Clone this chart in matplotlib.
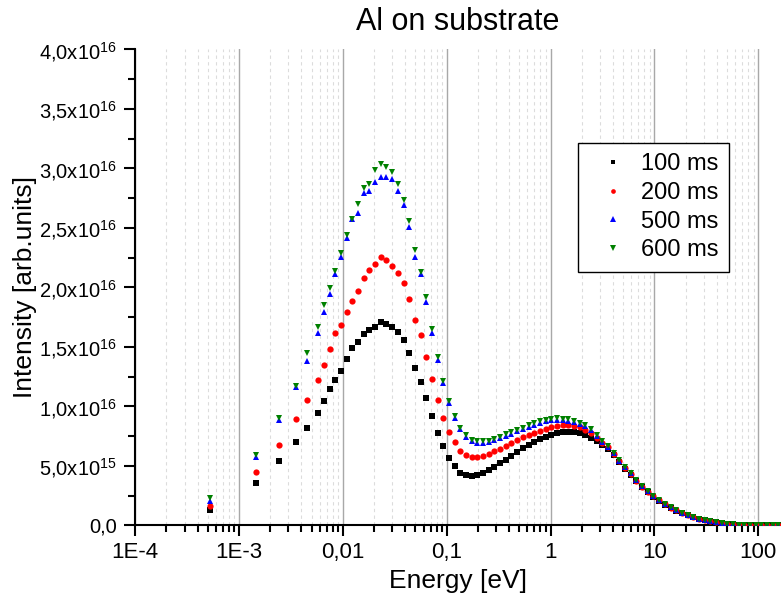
import numpy as np
import matplotlib
matplotlib.use("Agg")
import matplotlib.pyplot as plt
from matplotlib.ticker import FixedLocator, FixedFormatter, LogLocator, NullFormatter

plt.rcParams['font.family'] = ['Liberation Sans', 'DejaVu Sans']
plt.rcParams['mathtext.fontset'] = 'custom'
plt.rcParams['mathtext.rm'] = 'Liberation Sans'

# energy grid [eV]
energy = [5.31e-4, 1.453e-3, 2.406e-3, 3.512e-3, 4.518e-3, 5.813e-3, 6.593e-3,
          7.478e-3, 8.481e-3, 9.619e-3, 0.01091, 0.01237, 0.01404, 0.01592, 0.01806, 0.02048, 0.02323,
          0.02635, 0.02988, 0.03389, 0.03844, 0.04360, 0.04945, 0.05609, 0.06361, 0.07215, 0.08183,
          0.09281, 0.1053, 0.1194, 0.1354, 0.1536, 0.1742, 0.1976, 0.2241, 0.2542, 0.2883,
          0.3270, 0.3709, 0.4207, 0.4771, 0.5411, 0.6138, 0.6961, 0.7895, 0.8955, 1.016,
          1.152, 1.307, 1.482, 1.681, 1.906, 2.162, 2.452, 2.781, 3.155, 3.578,
          4.058, 4.603, 5.220, 5.921, 6.716, 7.617, 8.639, 9.798, 11.11, 12.60,
          14.30, 16.21, 18.39, 20.86, 23.66, 26.83, 30.43, 34.52, 39.15, 44.40,
          50.36, 57.12, 64.79, 73.48, 83.34, 94.53, 107.2, 121.6, 137.9, 156.4]

# intensities in units of 1e16
i100 = [0.130, 0.360, 0.542, 0.704, 0.822, 0.945, 1.049,
        1.145, 1.223, 1.301, 1.399, 1.492, 1.545, 1.612, 1.643, 1.668, 1.710,
        1.691, 1.671, 1.626, 1.556, 1.452, 1.321, 1.203, 1.069, 0.923, 0.775,
        0.671, 0.570, 0.500, 0.439, 0.424, 0.418, 0.424, 0.441, 0.466, 0.494,
        0.523, 0.550, 0.584, 0.618, 0.649, 0.674, 0.702, 0.724, 0.744, 0.763,
        0.775, 0.783, 0.786, 0.783, 0.780, 0.761, 0.738, 0.708, 0.674, 0.640,
        0.590, 0.531, 0.476, 0.428, 0.370, 0.322, 0.279, 0.241, 0.208, 0.176,
        0.149, 0.125, 0.103, 0.084, 0.068, 0.053, 0.043, 0.034, 0.026, 0.020,
        0.015, 0.010, 0.008, 0.006, 0.005, 0.004, 0.003, 0.003, 0.002, 0.002]
i200 = [0.164, 0.450, 0.674, 0.892, 1.052, 1.225, 1.351,
        1.486, 1.620, 1.687, 1.794, 1.887, 1.973, 2.080, 2.147, 2.197, 2.254,
        2.231, 2.181, 2.119, 2.038, 1.906, 1.727, 1.598, 1.413, 1.229, 1.055,
        0.906, 0.788, 0.702, 0.629, 0.590, 0.573, 0.573, 0.582, 0.601, 0.624,
        0.643, 0.668, 0.691, 0.716, 0.741, 0.761, 0.780, 0.797, 0.813, 0.828,
        0.836, 0.842, 0.842, 0.836, 0.825, 0.803, 0.775, 0.733, 0.691, 0.657,
        0.598, 0.538, 0.482, 0.434, 0.376, 0.327, 0.283, 0.244, 0.210, 0.178,
        0.150, 0.126, 0.104, 0.085, 0.068, 0.053, 0.043, 0.034, 0.027, 0.021,
        0.015, 0.011, 0.008, 0.006, 0.005, 0.004, 0.003, 0.003, 0.002, 0.002]
i500 = [0.206, 0.576, 0.887, 1.160, 1.385, 1.620, 1.797,
        1.941, 2.113, 2.259, 2.413, 2.573, 2.624, 2.792, 2.808, 2.889, 2.931,
        2.926, 2.909, 2.813, 2.693, 2.511, 2.259, 2.113, 1.881, 1.615, 1.391,
        1.195, 1.027, 0.906, 0.808, 0.746, 0.706, 0.693, 0.693, 0.699, 0.716,
        0.733, 0.752, 0.769, 0.790, 0.808, 0.828, 0.845, 0.861, 0.874, 0.884,
        0.887, 0.884, 0.878, 0.867, 0.853, 0.832, 0.803, 0.756, 0.702, 0.660,
        0.606, 0.545, 0.488, 0.440, 0.381, 0.331, 0.286, 0.246, 0.212, 0.180,
        0.152, 0.127, 0.105, 0.086, 0.069, 0.054, 0.044, 0.035, 0.027, 0.021,
        0.015, 0.011, 0.008, 0.006, 0.005, 0.004, 0.003, 0.003, 0.002, 0.002]
i600 = [0.227, 0.592, 0.903, 1.172, 1.447, 1.671, 1.853,
        1.993, 2.141, 2.287, 2.441, 2.573, 2.702, 2.839, 2.867, 2.987, 3.035,
        3.015, 2.973, 2.867, 2.735, 2.559, 2.315, 2.130, 1.918, 1.649, 1.418,
        1.212, 1.049, 0.920, 0.822, 0.761, 0.718, 0.708, 0.708, 0.713, 0.729,
        0.746, 0.766, 0.783, 0.803, 0.822, 0.842, 0.859, 0.876, 0.887, 0.897,
        0.901, 0.897, 0.892, 0.881, 0.864, 0.842, 0.808, 0.761, 0.710, 0.668,
        0.612, 0.550, 0.492, 0.444, 0.384, 0.334, 0.288, 0.248, 0.214, 0.181,
        0.153, 0.128, 0.105, 0.086, 0.069, 0.054, 0.044, 0.035, 0.027, 0.021,
        0.015, 0.011, 0.008, 0.006, 0.005, 0.004, 0.003, 0.003, 0.002, 0.002]

labels = ['100 ms', '200 ms', '500 ms', '600 ms']
colors = ['black', '#ff0000', '#0000ff', '#008000']
markers = ['s', 'o', '^', 'v']
msizes = [4, 4.5, 5, 5]

xticks = [1e-4, 1e-3, 1e-2, 1e-1, 1, 10, 100]
xticklabels = ['1E-4', '1E-3', '0,01', '0,1', '1', '10', '100']
yticks = [0, 0.5e16, 1.0e16, 1.5e16, 2.0e16, 2.5e16, 3.0e16, 3.5e16, 4.0e16]
yticklabels = ['0,0', r'$\mathregular{5{,}0x10^{15}}$', r'$\mathregular{1{,}0x10^{16}}$',
               r'$\mathregular{1{,}5x10^{16}}$', r'$\mathregular{2{,}0x10^{16}}$',
               r'$\mathregular{2{,}5x10^{16}}$', r'$\mathregular{3{,}0x10^{16}}$',
               r'$\mathregular{3{,}5x10^{16}}$', r'$\mathregular{4{,}0x10^{16}}$']

fig = plt.figure(figsize=(7.81, 6.07), dpi=100)
ax = fig.add_axes([0.1729, 0.1343, 0.8271, 0.7842])

for y, lab, c, m, ms in zip([i100, i200, i500, i600], labels, colors, markers, msizes):
    ax.plot(energy, np.array(y) * 1e16, linestyle='none', marker=m, color=c,
            markersize=ms, markeredgewidth=0, label=lab, zorder=3)

ax.set_xscale('log')
ax.set_xlim(1e-4, 165.5)
ax.set_ylim(0, 4.0e16)

ax.xaxis.set_major_locator(FixedLocator(xticks))
ax.xaxis.set_major_formatter(FixedFormatter(xticklabels))
ax.xaxis.set_minor_locator(LogLocator(base=10, subs=np.arange(2, 10), numticks=20))
ax.xaxis.set_minor_formatter(NullFormatter())
ax.yaxis.set_major_locator(FixedLocator(yticks))
ax.yaxis.set_major_formatter(FixedFormatter(yticklabels))
ax.yaxis.set_minor_locator(FixedLocator([0.25e16, 0.75e16, 1.25e16, 1.75e16, 2.25e16,
                                         2.75e16, 3.25e16, 3.75e16]))

ax.grid(which='major', axis='x', color='#a8a8a8', linewidth=1.0, linestyle='-')
ax.grid(which='minor', axis='x', color='#dcdcdc', linewidth=0.8, linestyle=(0, (3, 3)))
ax.set_axisbelow(True)

for side in ['top', 'right']:
    ax.spines[side].set_visible(False)
for side in ['left', 'bottom']:
    ax.spines[side].set_linewidth(1.5)

ax.tick_params(which='major', direction='out', length=8, width=1.5, labelsize=16, pad=4)
ax.tick_params(which='minor', direction='out', length=5, width=1.5)
ax.tick_params(axis='y', which='major', labelsize=14.5, pad=5)

ax.set_xlabel('Energy [eV]', fontsize=19, labelpad=4)
ax.set_ylabel('Intensity [arb.units]', fontsize=19)
ax.yaxis.set_label_coords(-0.152, 0.5)
ax.set_title('Al on substrate', fontsize=22, pad=14)

leg = ax.legend(loc='upper right', bbox_to_anchor=(0.919, 0.804), fontsize=17,
                frameon=True, fancybox=False, edgecolor='black', framealpha=1,
                markerscale=0.75, handlelength=2.1, handletextpad=0.1,
                labelspacing=0.28, borderpad=0.45, borderaxespad=0)
leg.get_frame().set_linewidth(1.0)

fig.savefig('out.png', dpi=100)
